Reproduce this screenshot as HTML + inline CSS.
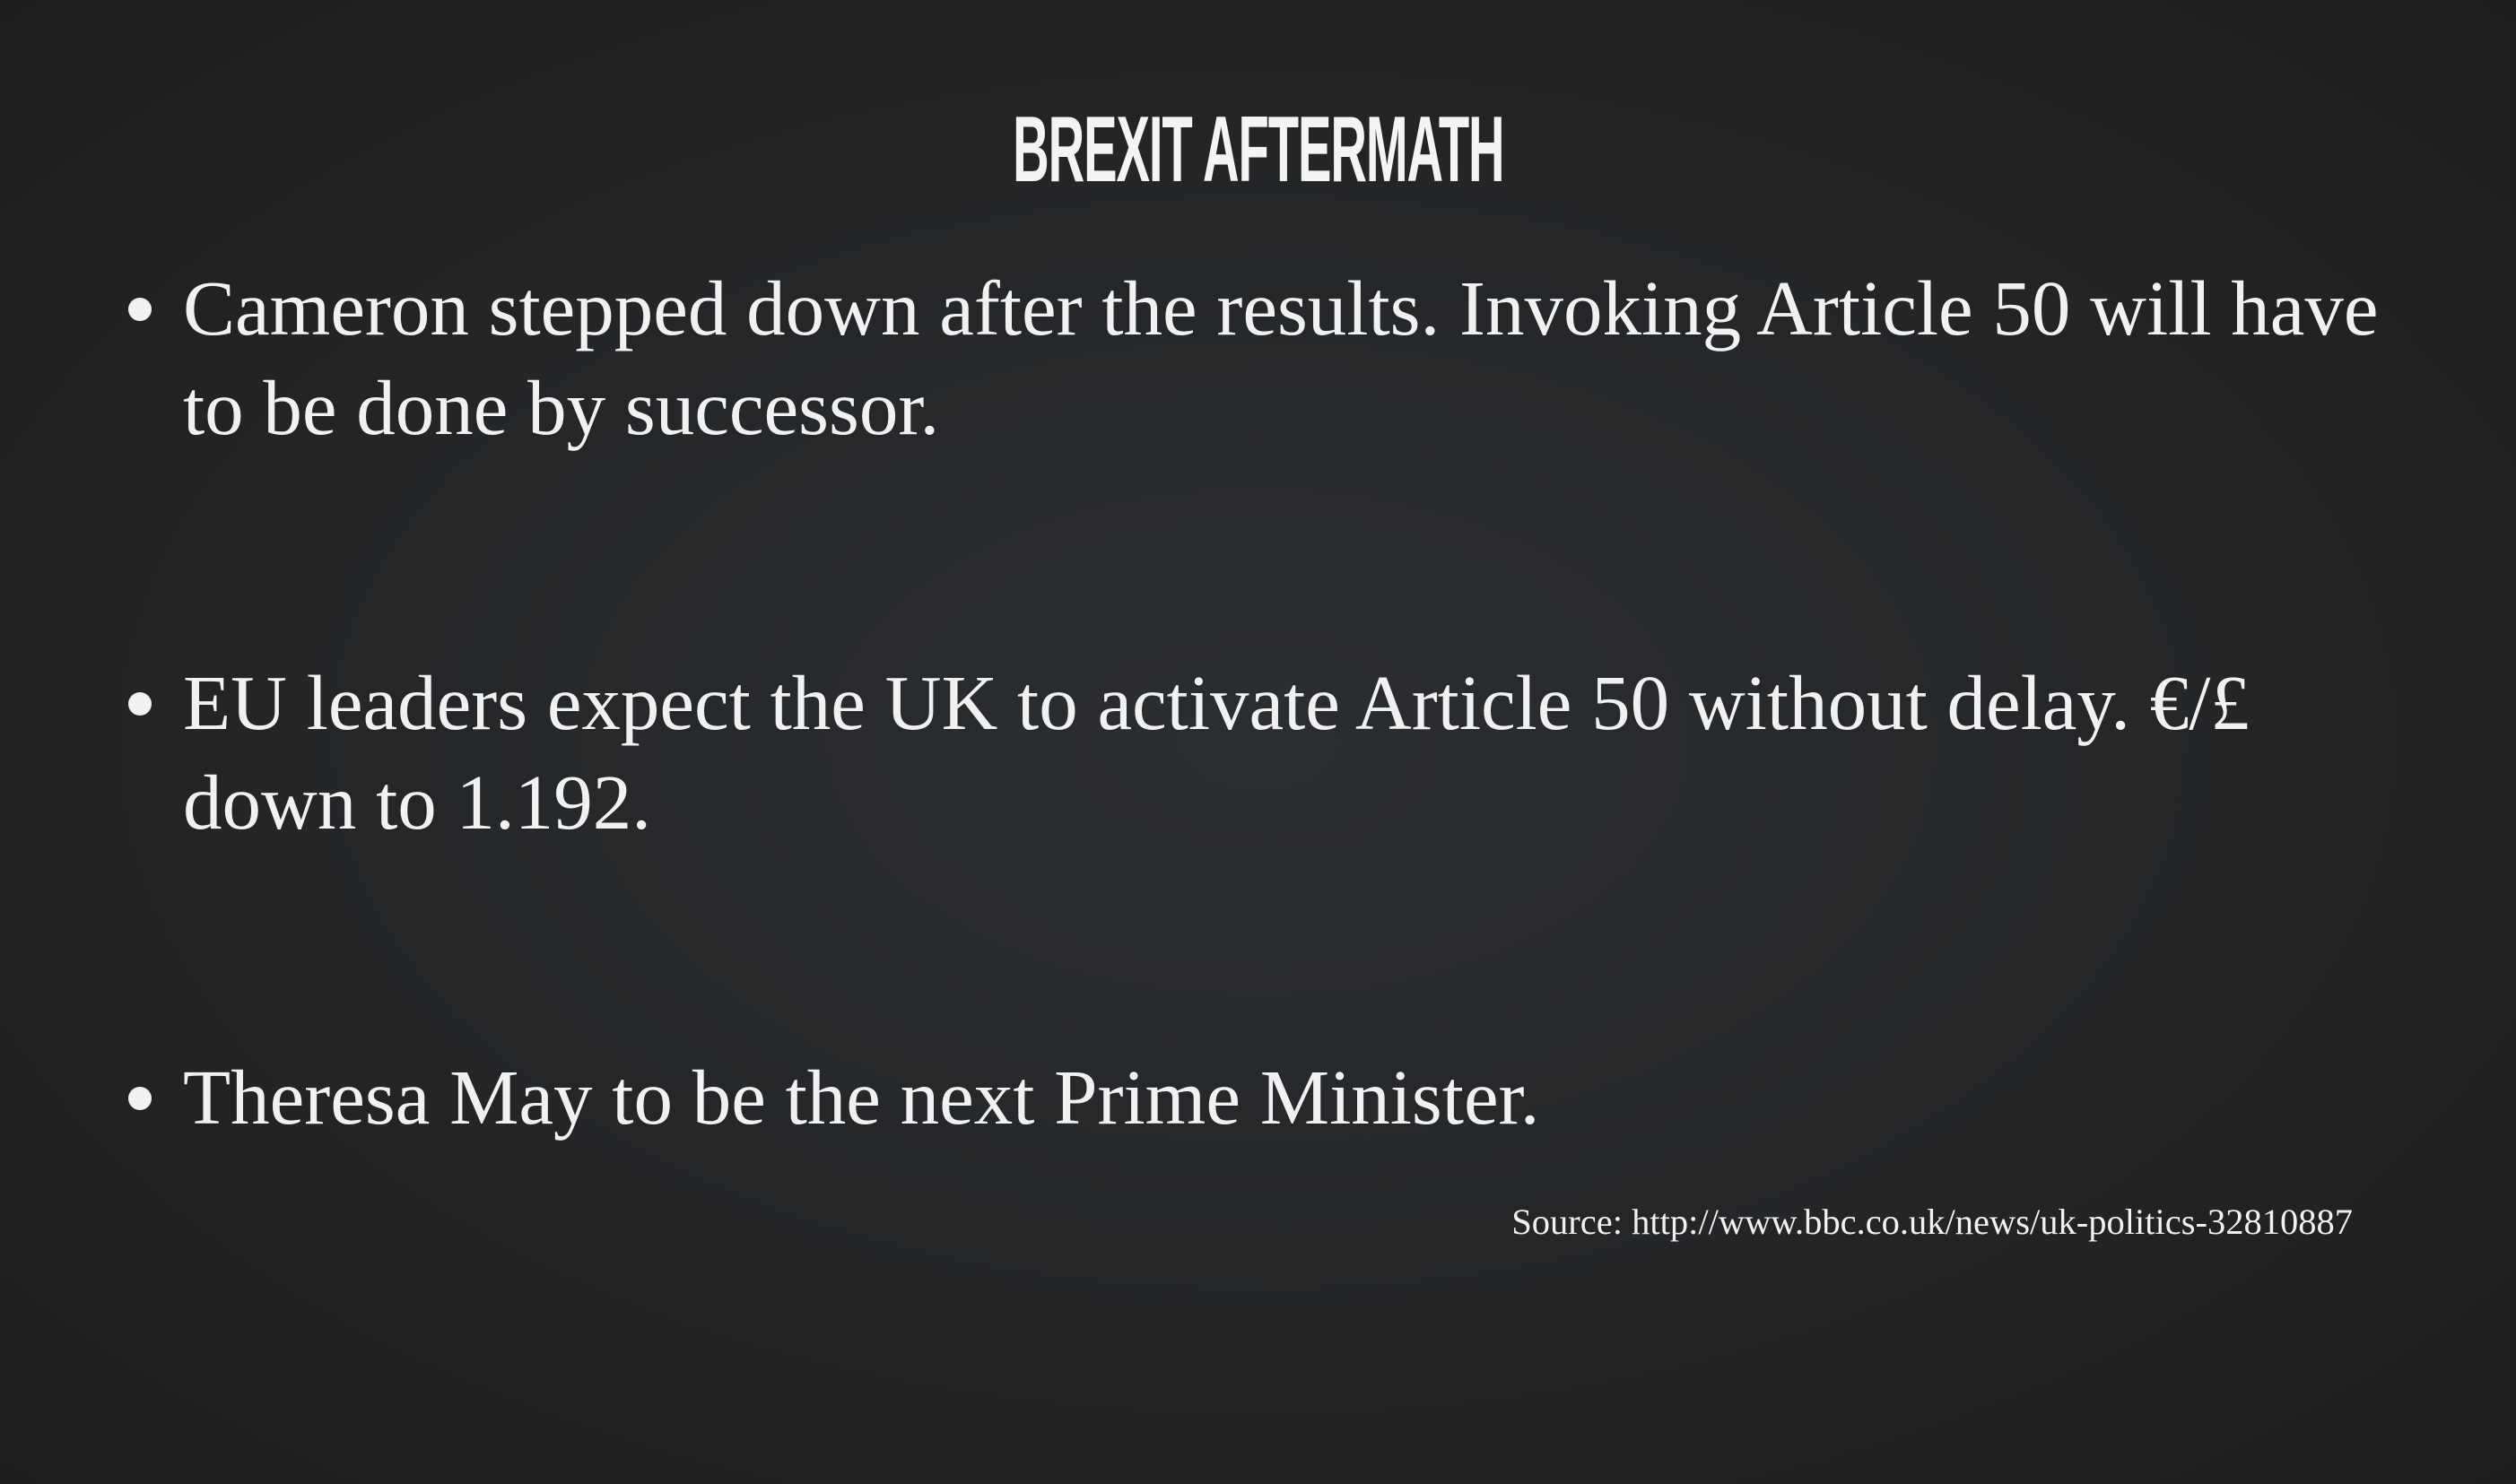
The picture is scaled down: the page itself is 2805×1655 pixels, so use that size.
<!DOCTYPE html>
<html><head><meta charset="utf-8"><style>
html,body{margin:0;padding:0}
body{width:2805px;height:1655px;overflow:hidden;position:relative;
background:radial-gradient(ellipse at 50% 50%,#2b2e31 0%,#232527 55%,#1c1d1f 100%);
color:#f1f1f1}
.t{position:absolute;font-family:"Liberation Serif",serif;font-size:87px;line-height:100px;white-space:nowrap}
.b{position:absolute;width:26px;height:26px;border-radius:50%;background:#f1f1f1}
#title{position:absolute;left:0;width:2805px;top:112px;text-align:center;font-family:"Liberation Sans",sans-serif;font-weight:bold;font-size:104px;line-height:110px;color:#f4f4f4}
#title span{display:inline-block;transform:scaleX(0.54);transform-origin:50% 50%;letter-spacing:-2px}
#src{position:absolute;right:182px;top:1343px;font-family:"Liberation Serif",serif;font-size:40.5px;line-height:40px;white-space:nowrap}
</style></head><body>
<div id="title"><span>BREXIT AFTERMATH</span></div>
<div class="b" style="left:143px;top:332px"></div>
<div class="t" style="left:204px;top:294px">Cameron stepped down after the results. Invoking Article 50 will have</div>
<div class="t" style="left:204px;top:405px">to be done by successor.</div>
<div class="b" style="left:143px;top:772px"></div>
<div class="t" style="left:204px;top:734px">EU leaders expect the UK to activate Article 50 without delay. €/£</div>
<div class="t" style="left:204px;top:845px">down to 1.192.</div>
<div class="b" style="left:143px;top:1212px"></div>
<div class="t" style="left:204px;top:1174px">Theresa May to be the next Prime Minister.</div>
<div id="src">Source: http://www.bbc.co.uk/news/uk-politics-32810887</div>
</body></html>
